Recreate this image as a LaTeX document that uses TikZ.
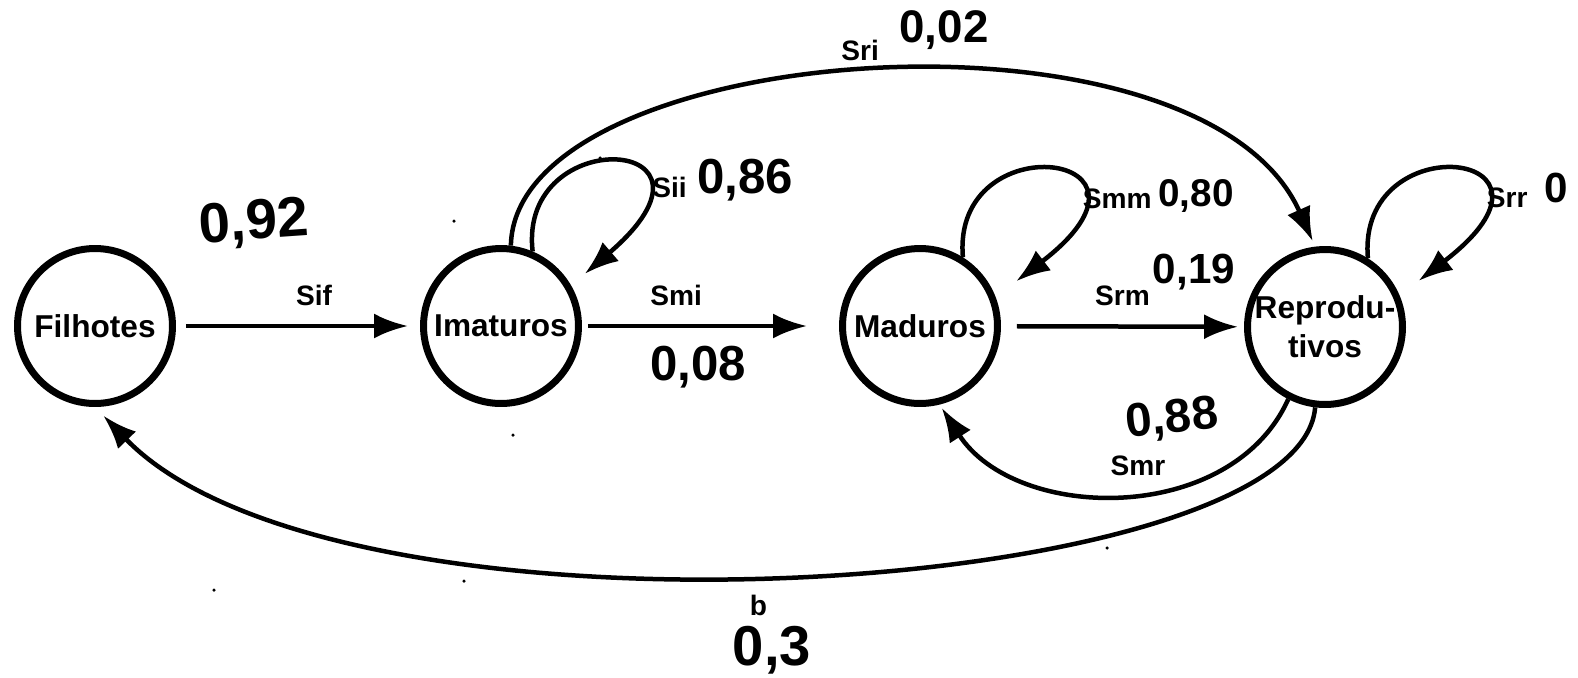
\documentclass[tikz,border=0pt]{standalone}
\usepackage{fontspec}
\setmainfont{Liberation Sans}
\usetikzlibrary{arrows.meta, positioning}

\begin{document}
\begin{tikzpicture}[x=0.02cm, y=-0.02cm,
  fase/.style={draw, circle, line width=0.14cm, minimum size=3.1cm,
               inner sep=0pt, align=center,
               font=\fontsize{18}{22}\selectfont\bfseries},
  arr/.style={-{Latex[length=0.68cm, width=0.5cm]}, line width=0.09cm},
  lbl/.style={font=\fontsize{16}{16}\selectfont\bfseries, inner sep=0pt},
  hnum/.style={font=\fontsize{30}{30}\selectfont\bfseries, inner sep=0pt}
]
\useasboundingbox (0,0) rectangle (1578,677);

% stages
\node[fase] (fil) at (95,326) {Filhotes};
\node[fase] (ima) at (501,326) {Imaturos};
\node[fase] (mad) at (920,326) {Maduros};
\node[fase] (rep) at (1325,327) {Reprodu-\\tivos};

% straight transitions
\draw[arr, shorten <=0.2cm, shorten >=0.24cm] (fil) -- (ima)
    node[pos=0.566, above=0.36cm, lbl] (lsif) {Sif};
\draw[arr, shorten <=0.12cm, shorten >=0.64cm] (ima) -- (mad)
    node[pos=0.366, above=0.36cm, lbl] (lsmi) {Smi};
\draw[arr, shorten <=0.32cm, shorten >=0.12cm] (mad) -- (rep)
    node[midway, above=0.36cm, lbl] (lsrm) {Srm};

% self loops
\draw[arr, shorten >=0.36cm] (ima.67) .. controls +(-15,-130) and +(175,-150) .. (ima.30)
    node[pos=0.7, right=0.26cm, lbl] (lsii) {Sii};
\draw[arr, shorten >=0.52cm] (mad.58) .. controls +(-12,-135) and +(191,-146) .. (mad.21)
    node[pos=0.7, right=0.2cm, lbl] (lsmm) {Smm};
\draw[arr, shorten >=0.48cm] (rep.58) .. controls +(-12,-135) and +(191,-146) .. (rep.23)
    node[pos=0.7, right=0.2cm, lbl] (lsrr) {Srr};

% long arcs
\draw[arr, shorten >=0.12cm] (ima.83) .. controls +(4,-205) and +(-115,-258) .. (rep.97)
    node[pos=0.49, above=0.2cm, lbl] (lsri) {Sri};
\draw[arr, shorten >=0.08cm] (rep.-117) .. controls +(-57,127) and +(76,118) .. (mad.-76)
    node[pos=0.46, above=0.3cm, lbl] (lsmr) {Smr};
\draw[arr, shorten >=0.24cm] (rep.-97) .. controls +(-15,190) and +(245,254) .. (fil.-90)
    node[pos=0.52, below=0.38cm, lbl] (lb) {b};

% handwritten values
\node[hnum, font=\fontsize{32}{32}\selectfont\bfseries, rotate=4] (v092) at (254,224) {0,92};
\node[hnum, font=\fontsize{28}{28}\selectfont\bfseries] (v086) at (745,180) {0,86};
\node[hnum, font=\fontsize{26}{26}\selectfont\bfseries] (v002) at (944,30) {0,02};
\node[hnum, font=\fontsize{22}{22}\selectfont\bfseries] (v080) at (1196,196) {0,80};
\node[hnum, font=\fontsize{24}{24}\selectfont\bfseries] (v019) at (1194,272) {0,19};
\node[hnum, font=\fontsize{24}{24}\selectfont\bfseries] (v000) at (1556,188) {0};
\node[hnum, font=\fontsize{28}{28}\selectfont\bfseries] (v008) at (698,367) {0,08};
\node[hnum, font=\fontsize{27}{27}\selectfont\bfseries, rotate=6] (v088) at (1172,420) {0,88};
\node[hnum, font=\fontsize{32}{32}\selectfont\bfseries] (v03) at (772,650) {0,3};

% stray dots
\foreach \p in {(454,221),(600,158),(513,435),(214,590),(464,581),(1107,548)}
  \fill \p circle (0.035cm);
\end{tikzpicture}
\end{document}
